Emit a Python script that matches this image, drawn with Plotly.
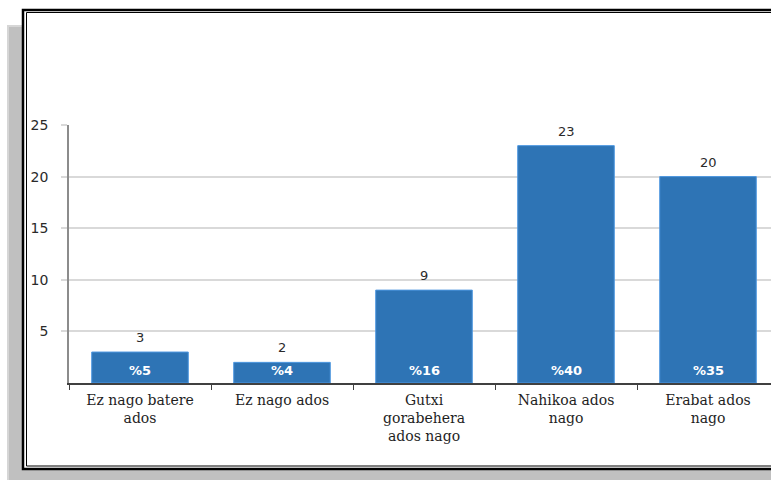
import plotly.graph_objects as go

categories = ["Ez nago batere<br>ados", "Ez nago ados", "Gutxi<br>gorabehera<br>ados nago",
              "Nahikoa ados<br>nago", "Erabat ados<br>nago"]
counts = [3, 2, 9, 23, 20]
percent_labels = ["%5", "%4", "%16", "%40", "%35"]
y_ticks = [5, 10, 15, 20, 25]

W, H = 771, 480
L, R, T, B = 69, 771, 125, 383

def px(x):
    return (x - L) / (R - L)

def py(y):
    return (B - y) / (B - T)

fig = go.Figure()
fig.add_trace(go.Bar(
    x=categories, y=counts,
    marker=dict(color="#2e74b5", line=dict(color="#4d97e0", width=1)),
    hoverinfo="skip",
))

annotations = []
for c, v, p in zip(categories, counts, percent_labels):
    annotations.append(dict(x=c, y=v, text=str(v), showarrow=False, yanchor="bottom",
                            yshift=5, font=dict(family="DejaVu Sans", size=13, color="#2a2a2a")))
    annotations.append(dict(x=c, y=0, text=p, showarrow=False, yanchor="middle",
                            yshift=13, font=dict(family="DejaVu Sans", size=13, color="#ffffff",
                                                 weight="bold")))

shapes = [
    dict(type="rect", xref="paper", yref="paper", layer="below",
         x0=px(8), x1=px(900), y0=py(26), y1=py(520),
         fillcolor="#c0c0c0", line=dict(color="#d6d6d6", width=2)),
    dict(type="rect", xref="paper", yref="paper", layer="below",
         x0=px(23), x1=px(900), y0=py(10), y1=py(469),
         fillcolor="#ffffff", line=dict(color="#000000", width=2.5)),
    dict(type="rect", xref="paper", yref="paper", layer="below",
         x0=px(26.5), x1=px(900), y0=py(12.5), y1=py(466),
         fillcolor="rgba(0,0,0,0)", line=dict(color="#000000", width=1)),
]

fig.update_layout(
    width=W, height=H,
    margin=dict(l=L, r=W - R, t=T, b=H - B, pad=0),
    paper_bgcolor="#ffffff", plot_bgcolor="rgba(0,0,0,0)",
    showlegend=False, bargap=0.32,
    annotations=annotations, shapes=shapes,
    xaxis=dict(type="category", range=[-0.5, -0.5 + (R - L) / 142.0],
               showline=True, linecolor="#404040", linewidth=1.5,
               ticks="outside", tickson="boundaries", ticklen=5, tickcolor="#404040",
               showgrid=False, fixedrange=True, ticklabelstandoff=3,
               tickfont=dict(family="DejaVu Serif", size=14, color="#1e1e1e")),
    yaxis=dict(range=[0, 25], tickvals=y_ticks, showline=True, linecolor="#8c8c8c",
               linewidth=1.5, showgrid=True, gridcolor="#d9d9d9", gridwidth=1.5,
               ticks="outside", ticklen=6, tickcolor="#d9d9d9", tickwidth=1.5,
               zeroline=False, ticklabelstandoff=10, fixedrange=True,
               tickfont=dict(family="DejaVu Sans", size=14, color="#2a2a2a")),
)

fig.write_html("out.html", config={"displayModeBar": False},
               post_script="document.body.style.margin='0';document.body.style.overflow='hidden';")
